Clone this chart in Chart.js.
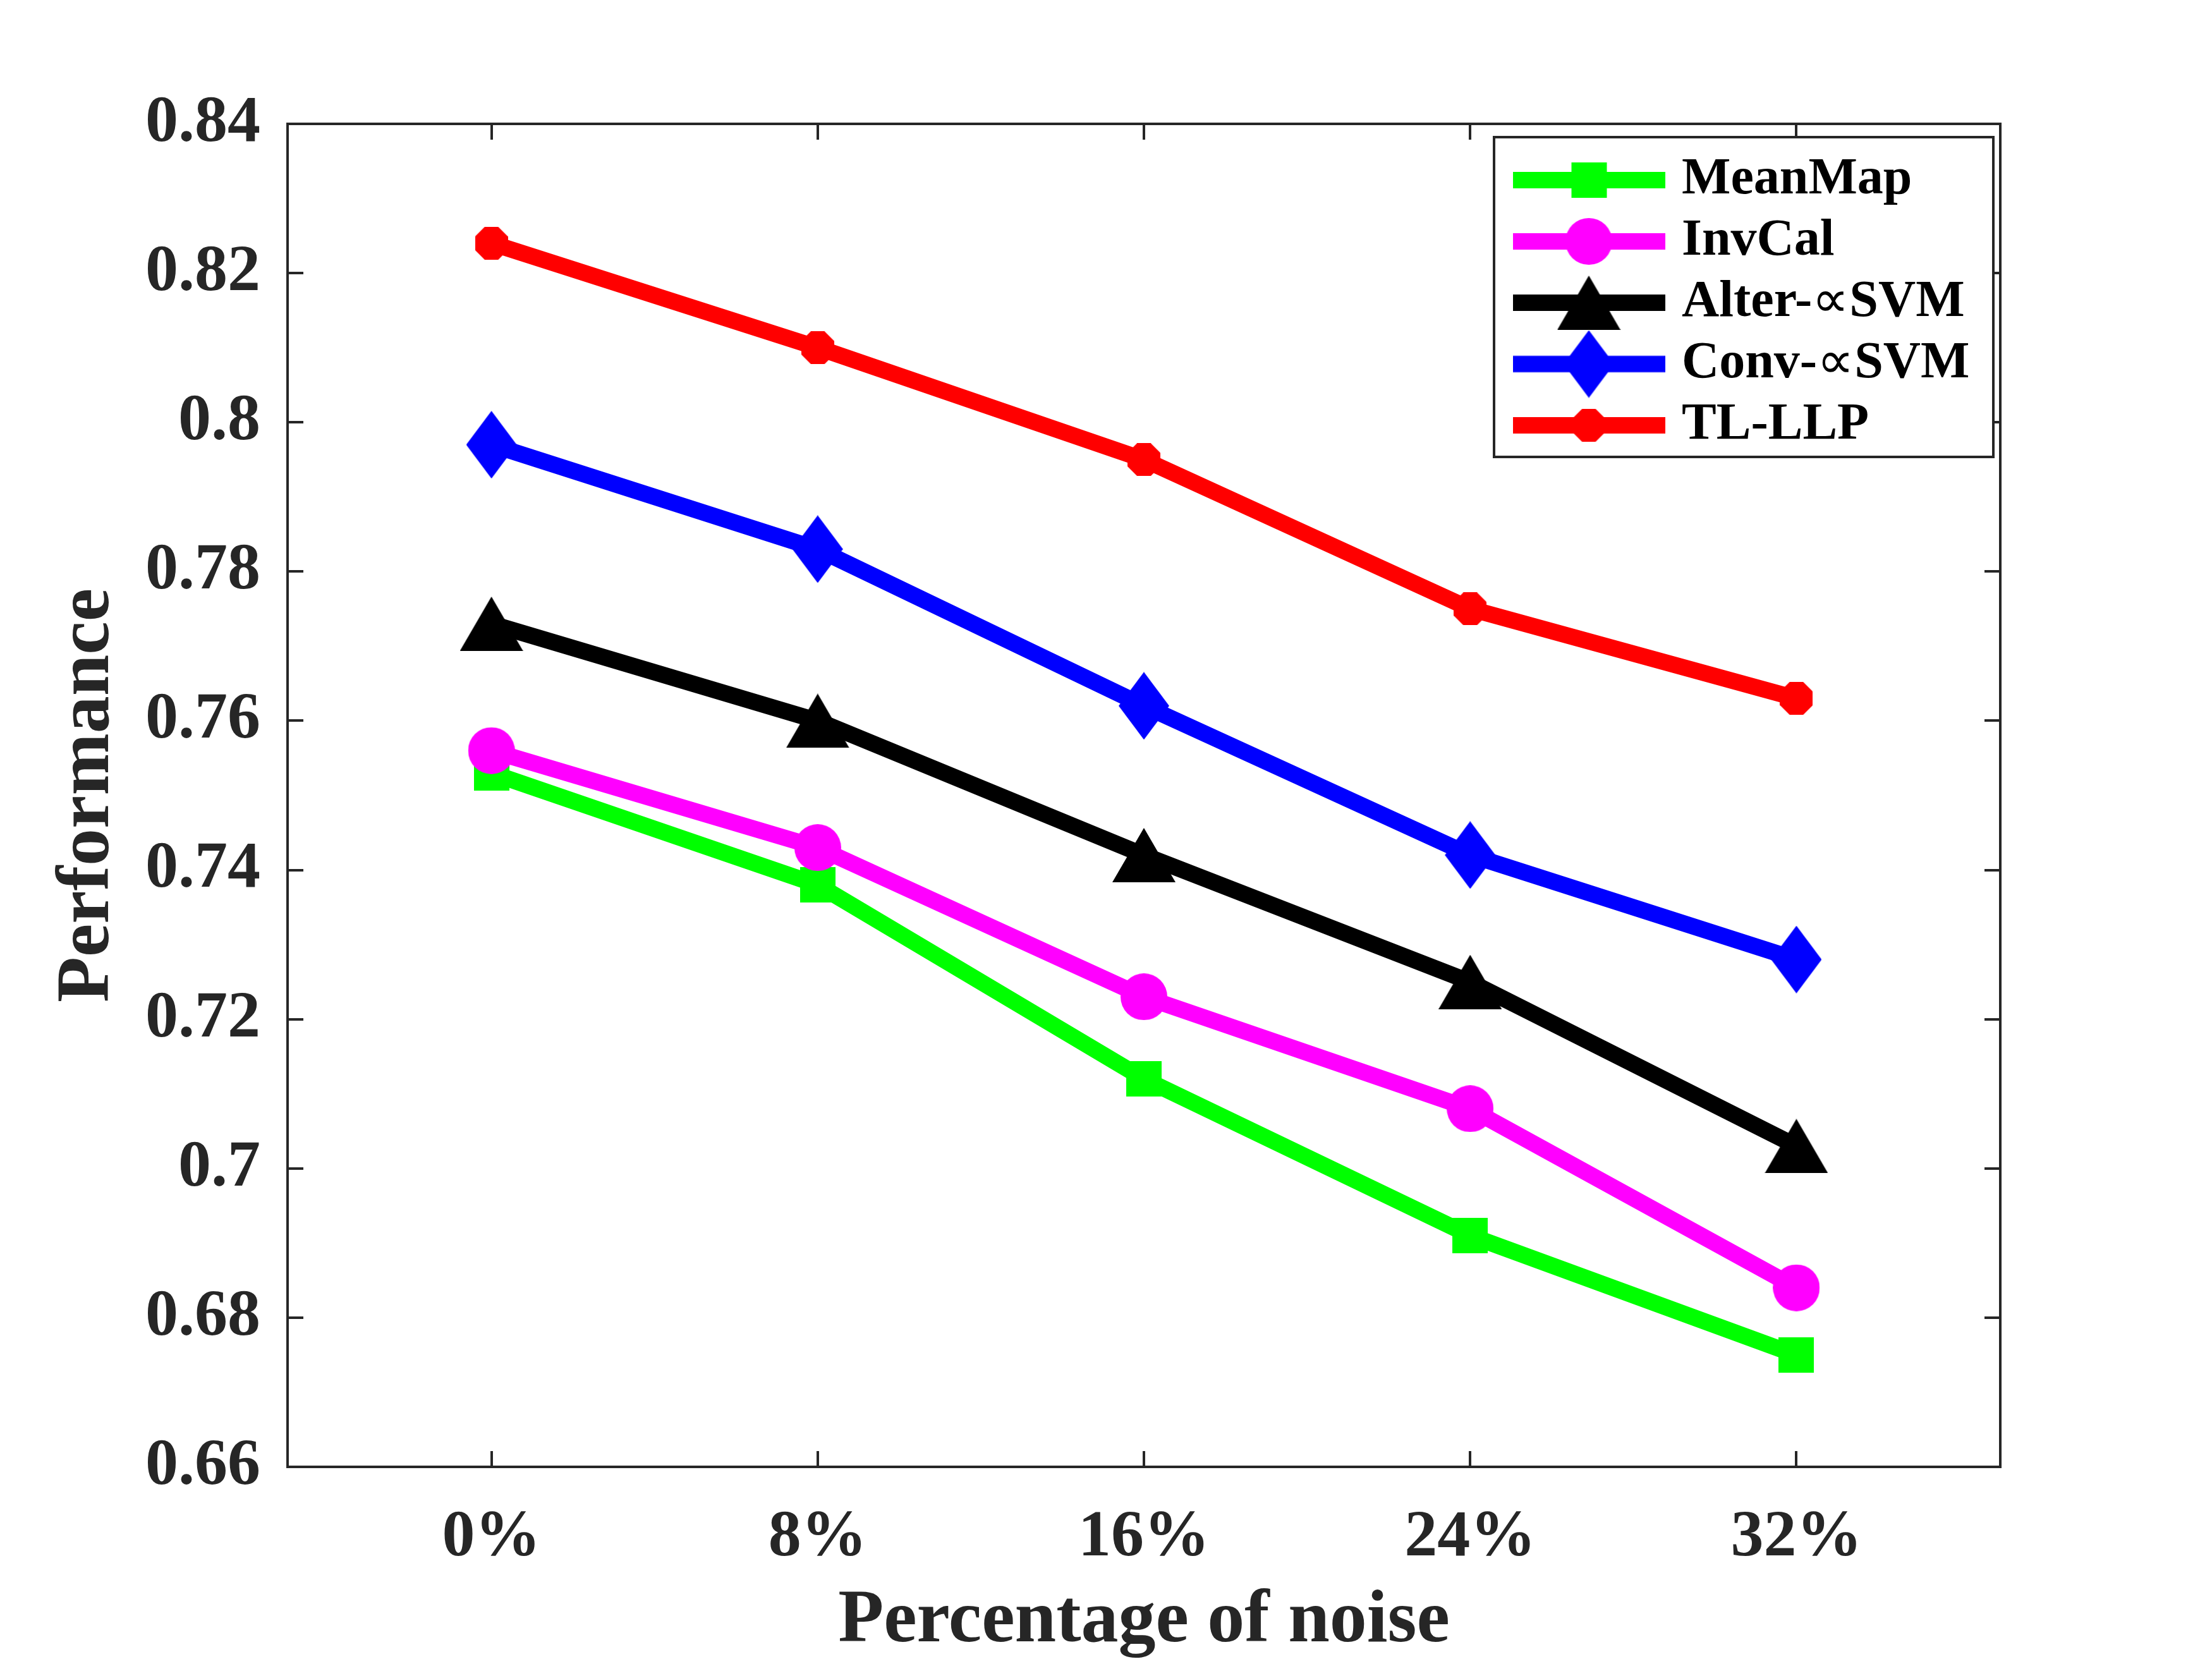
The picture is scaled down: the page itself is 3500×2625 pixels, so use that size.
<!DOCTYPE html>
<html>
<head>
<meta charset="utf-8">
<script src="https://cdn.jsdelivr.net/npm/chart.js@4.4.0/dist/chart.umd.min.js"></script>
<style>
  body { margin: 0; background: #fff; }
  canvas { display: block; }
</style>
</head>
<body>
<canvas id="myChart" width="3500" height="2625"></canvas>
<script>
// values
var noiseLabels = ['0%', '8%', '16%', '24%', '32%'];
var seriesNames = ['MeanMap', 'InvCal', 'Alter-\u221DSVM', 'Conv-\u221DSVM', 'TL-LLP'];
var meanMap  = [0.753, 0.738, 0.712, 0.691, 0.675];
var invCal   = [0.756, 0.743, 0.723, 0.708, 0.684];
var alterSVM = [0.773, 0.760, 0.742, 0.725, 0.703];
var convSVM  = [0.797, 0.783, 0.762, 0.742, 0.728];
var tlLLP    = [0.824, 0.810, 0.795, 0.775, 0.763];

var axisColor = '#262626';
var fontFamily = '"Liberation Serif", "Times New Roman", serif';

// marker pictures (MATLAB style filled markers)
function makeMarker(shape, color, w, h) {
    var c = document.createElement('canvas');
    c.width = w; c.height = h;
    var g = c.getContext('2d');
    g.fillStyle = color;
    g.beginPath();
    if (shape == 'square') {
        g.rect(0, 0, w, h);
    } else if (shape == 'circle') {
        g.arc(w / 2, h / 2, w / 2, 0, Math.PI * 2);
    } else if (shape == 'triangle') {
        g.moveTo(w / 2, 0); g.lineTo(w, h); g.lineTo(0, h);
    } else if (shape == 'diamond') {
        g.moveTo(w / 2, 0); g.lineTo(w, h / 2); g.lineTo(w / 2, h); g.lineTo(0, h / 2);
    } else if (shape == 'octagon') {
        for (var k = 0; k < 8; k++) {
            var a = Math.PI / 8 + k * Math.PI / 4;
            var px = w / 2 + Math.cos(a) * w / 2 / Math.cos(Math.PI / 8);
            var py = h / 2 + Math.sin(a) * h / 2 / Math.cos(Math.PI / 8);
            if (k == 0) g.moveTo(px, py); else g.lineTo(px, py);
        }
    }
    g.closePath();
    g.fill();
    return c;
}

function makeLegendIcon(marker, color, len, lw) {
    var c = document.createElement('canvas');
    c.width = len;
    c.height = Math.max(marker.height, lw);
    var g = c.getContext('2d');
    g.fillStyle = color;
    g.fillRect(0, c.height / 2 - lw / 2, len, lw);
    g.drawImage(marker, len / 2 - marker.width / 2, c.height / 2 - marker.height / 2);
    return c;
}

var colors = ['#00FF00', '#FF00FF', '#000000', '#0000FF', '#FF0000'];
var markers = [
    makeMarker('square', colors[0], 56, 56),
    makeMarker('circle', colors[1], 74, 74),
    makeMarker('triangle', colors[2], 100, 86),
    makeMarker('diamond', colors[3], 80, 107),
    makeMarker('octagon', colors[4], 52, 52)
];
var allValues = [meanMap, invCal, alterSVM, convSVM, tlLLP];

var datasets = allValues.map(function (vals, i) {
    return {
        label: seriesNames[i],
        data: vals.map(function (v, j) { return { x: j, y: v }; }),
        borderColor: colors[i],
        backgroundColor: colors[i],
        borderWidth: 26,
        pointStyle: markers[i],
        pointRadius: 30,
        pointHoverRadius: 30,
        tension: 0,
        order: allValues.length - i,
        legendIcon: makeLegendIcon(markers[i], colors[i], 241, 26)
    };
});

// legend drawn inside the axes, top right, like MATLAB 'northeast'
var insideLegend = {
    id: 'insideLegend',
    afterDraw: function (chart) {
        var ctx = chart.ctx;
        var area = chart.chartArea;
        var w = 790, h = 506;
        var x0 = area.right - 11 - w;
        var y0 = area.top + 21;
        var boldFont = 'bold 82px ' + fontFamily;
        var symFont = '82px ' + fontFamily;
        ctx.save();
        ctx.fillStyle = '#ffffff';
        ctx.fillRect(x0, y0, w, h);
        ctx.strokeStyle = axisColor;
        ctx.lineWidth = 4;
        ctx.strokeRect(x0, y0, w, h);
        ctx.textBaseline = 'middle';
        ctx.textAlign = 'left';
        chart.data.datasets.forEach(function (ds, i) {
            var cy = y0 + 68 + i * 97;
            var icon = ds.legendIcon;
            ctx.drawImage(icon, x0 + 150 - icon.width / 2, cy - icon.height / 2);
            ctx.fillStyle = '#000000';
            // the proportional sign is drawn in a regular weight, like the symbol font in the original
            var parts = ds.label.split('\u221D');
            var tx = x0 + 297;
            parts.forEach(function (p, k) {
                if (k > 0) {
                    ctx.font = symFont;
                    ctx.fillText('\u221D', tx, cy);
                    tx += ctx.measureText('\u221D').width;
                }
                ctx.font = boldFont;
                ctx.fillText(p, tx, cy);
                tx += ctx.measureText(p).width;
            });
        });
        ctx.restore();
    }
};

function categoryTicks(scale) {
    scale.ticks = noiseLabels.map(function (l, i) { return { value: i }; });
}

var tickFont = { family: fontFamily, size: 104, weight: 'bold' };
var titleFont = { family: fontFamily, size: 118, weight: 'bold' };

const ctx = document.getElementById('myChart');
var chart = new Chart(ctx, {
    type: 'line',
    data: { datasets: datasets },
    options: {
        responsive: false,
        animation: false,
        devicePixelRatio: 1,
        layout: { padding: { left: 0, right: 335, top: 196, bottom: 0 } },
        plugins: {
            legend: { display: false },
            tooltip: { enabled: false }
        },
        scales: {
            x: {
                type: 'linear',
                position: 'bottom',
                min: -0.625,
                max: 4.625,
                afterBuildTicks: categoryTicks,
                afterFit: function (s) { s.height = 304; },
                ticks: {
                    callback: function (v) { return noiseLabels[v]; },
                    font: tickFont,
                    color: axisColor,
                    padding: 76,
                    maxRotation: 0,
                    autoSkip: false
                },
                grid: { drawOnChartArea: false, tickLength: -25, color: axisColor, lineWidth: 4 },
                border: { color: axisColor, width: 4 },
                title: { display: true, text: 'Percentage of noise', font: titleFont, color: axisColor, padding: { top: 0, bottom: -12 } }
            },
            x2: {
                type: 'linear',
                position: 'top',
                min: -0.625,
                max: 4.625,
                afterBuildTicks: categoryTicks,
                afterFit: function (s) { s.height = 0; },
                ticks: { display: false },
                grid: { drawOnChartArea: false, tickLength: -25, color: axisColor, lineWidth: 4 },
                border: { color: axisColor, width: 4 }
            },
            y: {
                position: 'left',
                min: 0.66,
                max: 0.84,
                afterFit: function (s) { s.width = 455; },
                ticks: {
                    stepSize: 0.02,
                    callback: function (v) { return String(+v.toFixed(2)); },
                    font: tickFont,
                    color: axisColor,
                    padding: 68
                },
                grid: { drawOnChartArea: false, tickLength: -25, color: axisColor, lineWidth: 4 },
                border: { color: axisColor, width: 4 },
                title: { display: true, text: 'Performance', font: titleFont, color: axisColor, padding: { top: 70, bottom: 0 } }
            },
            y2: {
                position: 'right',
                min: 0.66,
                max: 0.84,
                afterFit: function (s) { s.width = 0; },
                ticks: { display: false, stepSize: 0.02 },
                grid: { drawOnChartArea: false, tickLength: -25, color: axisColor, lineWidth: 4 },
                border: { color: axisColor, width: 4 }
            }
        }
    },
    plugins: [insideLegend]
});
</script>
</body>
</html>
